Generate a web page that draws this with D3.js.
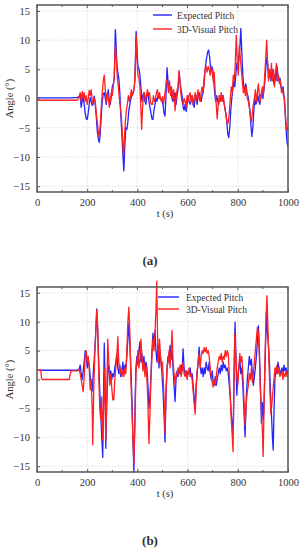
<!DOCTYPE html>
<html>
<head>
<meta charset="utf-8">
<script src="https://cdn.jsdelivr.net/npm/d3@7"></script>
<style>
  body { margin: 0; background: #fff; }
  svg text { font-family: "Liberation Serif", "Times New Roman", Times, serif; font-weight: normal; fill: #333; }
</style>
</head>
<body>
<script>
// Tick values for both panels
var xTicks = [0, 200, 400, 600, 800, 1000];
var xMinorTicks = [100, 300, 500, 700, 900];
var yTicks = [-15, -10, -5, 0, 5, 10, 15];
var seriesNames = ["Expected Pitch", "3D-Visual Pitch"];

// Panel (a): [t, angle]
var expectedA = [[0,0.1],[20,0.1],[40,0.1],[60,0.1],[80,0.1],[100,0.1],[120,0.1],[140,0.1],[160,0.2],[168,0.3],[172,0.3],[176,-1.5],[180,-0.5],[184,0.5],[188,-1.0],[192,-2.5],[196,-3.5],[200,-3.6],[204,-2.5],[208,-1.0],[212,0.2],[216,-0.5],[220,-1.2],[224,-0.6],[228,0.4],[232,-1.0],[236,-3.0],[240,-5.5],[244,-6.8],[248,-7.5],[252,-6.0],[256,-3.0],[260,-0.5],[264,0.8],[268,1.0],[272,0.0],[276,-1.0],[280,0.5],[284,1.5],[288,-0.5],[292,-1.0],[296,0.5],[300,2.0],[304,2.5],[308,3.5],[312,11.8],[314,10.5],[318,6.0],[322,4.5],[326,3.5],[330,1.0],[334,-3.0],[338,-6.0],[342,-9.5],[346,-12.4],[350,-8.0],[354,-5.0],[358,-5.3],[362,-4.0],[366,-2.0],[370,-1.0],[374,0.0],[378,0.5],[382,1.0],[386,1.5],[390,3.0],[395,11.5],[398,9.0],[402,5.5],[406,5.2],[410,4.0],[414,2.0],[418,-0.5],[422,0.5],[426,1.0],[430,-0.5],[434,-1.0],[438,0.5],[442,1.0],[446,-0.5],[450,-1.5],[454,-2.5],[458,-3.5],[462,-3.6],[466,-2.0],[470,-1.0],[474,0.0],[478,-0.5],[482,0.5],[486,0.5],[490,0.0],[496,-0.3],[502,-1.0],[506,-2.5],[510,-3.0],[514,0.5],[518,5.3],[522,3.0],[526,1.5],[530,2.0],[534,1.0],[538,0.0],[542,-0.5],[546,0.5],[550,1.0],[554,-1.0],[558,0.5],[562,1.5],[566,4.5],[570,3.0],[574,1.5],[578,0.5],[582,-1.5],[586,-2.0],[590,-1.0],[594,-2.2],[598,-1.0],[602,0.5],[606,-0.5],[610,-1.0],[614,-0.5],[618,0.5],[622,-1.0],[626,-1.5],[630,0.0],[634,0.5],[638,-1.0],[642,0.5],[646,1.0],[650,0.0],[654,-0.5],[658,0.5],[662,1.0],[666,3.5],[670,5.0],[674,6.5],[680,8.0],[684,8.3],[688,7.0],[692,5.0],[696,5.5],[700,5.0],[704,3.0],[708,1.0],[712,-0.5],[716,0.5],[720,-0.5],[724,-1.0],[728,0.5],[732,-0.5],[736,0.0],[740,0.5],[744,-0.5],[748,-1.5],[752,-2.5],[756,-4.0],[760,-6.0],[764,-6.7],[768,-5.0],[772,-2.0],[776,0.0],[780,1.5],[784,3.0],[788,2.0],[792,4.0],[796,6.0],[800,5.0],[804,7.0],[808,8.5],[812,12.0],[816,8.0],[820,4.0],[824,2.0],[828,1.5],[832,2.5],[836,1.0],[840,0.5],[844,-0.5],[848,-2.0],[852,-4.5],[856,-6.5],[860,-5.0],[864,-2.0],[868,0.0],[872,-1.0],[876,-0.5],[880,0.5],[884,-0.5],[888,-1.0],[892,0.5],[896,1.0],[900,0.0],[904,1.5],[908,3.0],[912,5.5],[916,7.0],[920,5.5],[924,3.5],[928,4.5],[932,3.0],[936,5.0],[940,4.0],[944,2.5],[948,4.0],[952,3.0],[956,5.5],[960,4.0],[964,3.0],[968,3.5],[972,2.0],[976,1.5],[980,2.0],[984,0.5],[988,-2.0],[992,-5.0],[996,-7.5],[1000,-8.2]];

var visualA = [[0,-0.3],[40,-0.3],[80,-0.3],[120,-0.3],[160,-0.3],[168,0.3],[172,1.0],[176,-0.5],[180,1.2],[184,0.0],[188,1.0],[192,-0.5],[196,0.5],[200,-1.0],[204,0.0],[208,1.4],[212,0.5],[216,1.5],[220,-0.5],[224,-1.0],[228,0.0],[232,-0.5],[236,-2.5],[240,-4.0],[244,-5.5],[248,-6.7],[252,-4.5],[256,-1.5],[260,1.0],[264,3.0],[268,4.0],[272,1.5],[276,-0.5],[280,1.0],[284,0.0],[288,-1.5],[292,-0.5],[296,1.0],[300,0.5],[304,2.0],[308,4.0],[312,9.1],[316,7.0],[320,3.5],[324,2.0],[328,0.0],[332,-1.5],[336,-3.0],[340,-6.0],[344,-9.8],[348,-7.0],[352,-4.0],[356,-2.0],[360,-1.0],[364,0.5],[368,-0.5],[372,0.5],[376,1.5],[380,0.5],[384,1.0],[388,2.0],[392,6.0],[395,10.8],[398,7.0],[402,4.0],[406,3.5],[410,2.0],[414,-2.0],[417,-5.3],[420,-2.0],[424,0.5],[428,1.0],[432,-0.5],[436,0.5],[440,1.5],[444,0.5],[448,1.0],[452,-0.5],[456,-1.0],[460,-1.0],[464,0.5],[468,-0.5],[472,0.0],[476,1.0],[480,1.5],[484,0.0],[488,1.0],[492,0.0],[496,-0.5],[500,0.3],[504,-1.0],[508,0.5],[512,1.5],[516,3.3],[520,2.5],[524,1.0],[528,3.0],[532,0.5],[536,2.0],[540,0.0],[544,1.5],[548,-0.5],[550,-2.1],[554,0.0],[558,1.5],[562,2.0],[566,4.8],[570,2.5],[574,0.5],[578,-0.5],[582,-1.0],[586,0.0],[590,-0.5],[594,-1.5],[598,0.5],[602,-0.5],[606,0.5],[610,1.0],[614,-0.5],[618,0.5],[622,-1.0],[626,0.0],[630,1.0],[634,-0.5],[638,0.5],[642,1.5],[646,0.0],[650,-0.5],[654,1.0],[658,2.0],[662,1.0],[666,2.5],[670,5.0],[674,5.5],[678,4.5],[682,5.5],[686,5.0],[690,4.0],[694,5.5],[698,4.5],[702,3.0],[706,4.5],[710,1.0],[714,-1.0],[718,-3.5],[722,-1.0],[726,0.5],[730,-0.5],[734,1.0],[738,-0.5],[742,0.5],[746,-1.0],[750,-2.0],[754,-3.0],[758,-4.4],[762,-4.0],[766,-2.5],[770,0.0],[774,2.0],[778,1.0],[782,4.0],[786,3.0],[790,6.0],[794,10.8],[798,6.0],[802,4.0],[806,9.0],[810,7.0],[814,5.0],[818,3.0],[822,1.0],[826,2.0],[830,0.5],[834,2.0],[838,0.0],[842,-0.5],[846,-1.5],[850,-3.0],[854,-4.0],[858,-2.5],[862,-1.0],[866,0.0],[870,1.5],[874,-0.5],[878,1.0],[882,2.5],[886,0.5],[890,-0.5],[894,1.0],[898,2.0],[902,0.5],[906,3.0],[910,6.0],[915,10.0],[918,7.0],[922,3.0],[926,5.0],[930,3.5],[934,6.0],[938,3.0],[942,5.0],[946,2.0],[950,4.5],[954,6.0],[958,3.0],[962,4.0],[966,2.5],[970,3.0],[974,1.0],[978,1.5],[982,0.5],[986,0.0],[990,-3.0],[994,-5.3],[998,-5.0],[1000,-5.5]];

// Panel (b): [t, angle]
var expectedB = [[0,1.6],[40,1.6],[80,1.6],[120,1.6],[160,1.6],[168,1.8],[172,2.5],[176,1.0],[180,0.0],[184,1.5],[188,3.0],[192,5.0],[196,4.5],[200,2.0],[204,3.5],[208,2.5],[212,0.5],[216,-1.5],[220,-2.0],[224,1.0],[228,3.5],[232,6.5],[236,10.0],[238,12.2],[242,8.0],[246,3.0],[250,-2.0],[254,-6.0],[258,-10.0],[262,-13.5],[266,0.0],[268,6.3],[272,-2.0],[274,-11.9],[278,-4.0],[282,1.0],[286,2.5],[290,0.5],[294,1.5],[298,0.0],[302,1.0],[306,0.5],[310,2.0],[314,3.0],[318,4.5],[322,2.0],[326,1.0],[330,2.5],[334,0.5],[338,1.5],[342,3.0],[346,1.0],[350,2.5],[354,2.0],[358,4.0],[362,7.0],[366,9.7],[370,6.0],[374,2.0],[378,-3.0],[382,-10.0],[386,-16.0],[390,-6.0],[394,2.0],[398,4.0],[402,2.5],[406,5.0],[410,6.5],[414,3.0],[418,4.5],[422,2.0],[426,4.0],[430,1.5],[434,3.0],[438,2.0],[442,-1.0],[446,-5.0],[450,-3.0],[454,1.0],[458,5.0],[462,8.0],[466,6.0],[470,8.5],[474,5.0],[478,3.0],[482,6.0],[486,2.0],[490,5.0],[494,3.0],[498,1.0],[502,-2.0],[506,-6.0],[510,-10.8],[514,-3.0],[518,2.0],[522,4.0],[526,3.0],[530,5.9],[534,3.5],[538,5.0],[542,2.0],[546,-1.0],[550,-3.8],[554,0.0],[558,1.5],[562,0.5],[566,2.0],[570,1.0],[574,2.5],[578,1.5],[582,5.3],[586,2.0],[590,1.0],[594,1.5],[598,0.5],[602,1.5],[606,1.0],[610,2.0],[614,0.5],[618,1.0],[622,-1.0],[626,-3.0],[630,-5.3],[634,-1.0],[638,1.0],[642,3.0],[646,5.6],[650,2.5],[654,1.0],[658,2.0],[662,0.5],[666,2.0],[670,1.0],[674,3.0],[678,2.0],[682,1.5],[686,3.0],[690,1.0],[694,0.0],[698,1.5],[702,-0.5],[706,-1.0],[710,0.5],[714,-1.0],[718,0.0],[722,1.0],[726,2.0],[730,1.0],[734,2.5],[738,1.5],[742,3.0],[746,2.0],[750,2.5],[754,1.5],[758,2.0],[762,1.0],[766,-1.0],[770,-3.0],[774,-6.0],[778,-7.5],[782,-9.0],[786,3.0],[789,9.9],[792,5.0],[796,-2.7],[800,0.5],[804,2.0],[808,3.5],[812,1.0],[816,2.0],[820,-1.0],[824,-5.0],[829,-9.9],[834,-3.0],[838,0.0],[842,2.0],[846,4.0],[850,2.5],[854,3.5],[858,1.0],[862,-1.0],[866,0.5],[870,2.0],[874,4.0],[878,6.5],[882,9.3],[886,5.0],[890,-1.0],[894,-7.5],[898,-4.0],[902,-7.0],[906,-2.0],[910,5.0],[914,11.6],[918,8.0],[922,6.0],[926,3.0],[930,-2.0],[934,-6.0],[938,-10.0],[941,-12.2],[944,-6.0],[948,0.0],[952,2.0],[956,1.0],[960,3.0],[964,2.0],[968,1.0],[972,1.5],[976,2.0],[980,1.0],[984,2.5],[988,1.5],[992,2.0],[996,1.0],[1000,1.5]];

var visualB = [[0,1.6],[15,1.6],[18,0.2],[22,0.0],[60,0.0],[100,0.0],[128,0.0],[132,0.8],[136,1.5],[160,1.5],[168,1.7],[172,1.0],[176,0.0],[180,-1.0],[184,-2.1],[188,0.5],[192,4.0],[196,5.0],[200,3.0],[204,4.0],[208,2.0],[212,-1.8],[216,0.0],[220,-5.0],[222,-11.3],[226,-2.0],[230,4.0],[234,8.0],[238,12.0],[242,9.0],[246,1.0],[250,-5.0],[254,-7.0],[258,-3.0],[262,-10.5],[266,-4.0],[270,2.0],[274,-10.5],[278,-3.0],[282,7.0],[286,3.0],[290,-1.0],[294,1.0],[298,-1.5],[302,-3.5],[306,-3.5],[310,0.0],[314,2.0],[318,4.0],[322,7.4],[326,3.0],[330,1.0],[334,2.0],[338,0.5],[342,1.5],[346,0.5],[350,2.0],[354,1.0],[358,5.0],[362,10.0],[366,12.5],[370,8.0],[374,0.0],[378,-5.0],[382,-10.0],[386,-14.5],[390,-8.0],[394,1.0],[398,3.0],[402,5.0],[406,2.0],[410,3.5],[414,7.0],[418,4.0],[422,1.5],[426,3.0],[430,0.5],[434,2.5],[438,0.0],[442,-4.0],[446,-11.1],[450,-6.0],[454,0.0],[458,4.0],[462,7.0],[466,5.0],[470,8.0],[474,12.0],[477,17.0],[480,8.0],[484,3.0],[488,7.0],[492,4.0],[496,2.0],[500,3.0],[504,-1.0],[508,-5.0],[510,-9.4],[514,-2.0],[518,2.0],[522,3.0],[526,5.0],[530,2.0],[534,4.5],[538,8.5],[542,3.0],[546,1.0],[550,-1.0],[554,1.0],[558,0.5],[562,2.0],[566,1.0],[570,2.5],[574,0.5],[578,1.5],[582,3.0],[586,1.0],[590,0.5],[594,1.5],[598,0.0],[602,1.0],[606,2.0],[610,0.5],[614,1.0],[618,0.0],[622,-2.0],[626,-4.0],[630,-6.0],[634,-2.0],[638,1.5],[642,3.0],[646,4.5],[650,2.0],[654,4.0],[658,5.0],[662,4.5],[666,5.5],[670,4.8],[674,5.5],[678,4.5],[682,5.0],[686,4.0],[690,2.0],[694,0.5],[698,-0.5],[702,-1.3],[706,0.0],[710,-1.0],[714,0.5],[718,2.0],[722,3.0],[726,4.0],[730,3.5],[734,4.5],[738,3.0],[742,4.0],[746,3.5],[750,5.0],[754,4.0],[758,5.0],[762,4.5],[766,1.0],[770,-3.0],[774,-7.0],[778,-10.0],[781,-12.5],[784,-2.0],[788,7.9],[792,4.0],[796,0.5],[800,-1.0],[804,2.0],[808,4.5],[812,3.0],[816,4.0],[820,1.0],[824,-3.0],[829,-8.0],[834,-4.0],[838,-2.0],[842,-1.0],[846,1.0],[850,0.0],[854,2.0],[858,-0.5],[862,1.0],[866,3.0],[870,5.0],[874,7.0],[878,9.0],[882,8.0],[886,4.0],[890,-2.0],[894,-5.0],[898,-9.0],[901,-13.3],[904,-6.0],[908,3.0],[912,10.0],[916,14.5],[920,9.0],[924,3.0],[928,-2.0],[932,-6.0],[936,-4.0],[940,-2.0],[944,0.0],[948,2.0],[952,1.0],[956,2.5],[960,1.0],[964,2.0],[968,0.5],[972,1.0],[976,1.5],[980,0.0],[984,1.0],[988,0.5],[992,1.5],[996,0.5],[1000,0.5]];

var blue = "#2424ff";
var red = "#ff2020";
var frameColor = "#555";

var svg = d3.select("body")
            .append("svg")
            .attr("width", 299)
            .attr("height", 550);

// draws one panel; top/bottom are pixel edges of the plot box
function drawPanel(top, bottom, expected, visual, tag, legend) {
    var x = d3.scaleLinear().domain([0, 1000]).range([37, 288]);
    var y = d3.scaleLinear().domain([-16, 16]).range([bottom, top]);

    var g = svg.append("g");

    // dotted grid
    g.selectAll(".gx").data(xTicks.slice(1, -1)).enter()
     .append("line")
     .attr("x1", d => x(d)).attr("x2", d => x(d))
     .attr("y1", top).attr("y2", bottom)
     .attr("stroke", "#d8d8d8").attr("stroke-width", 0.8)
     .attr("stroke-dasharray", "1.5,1.5");

    g.selectAll(".gy").data(yTicks).enter()
     .append("line")
     .attr("x1", 37).attr("x2", 288)
     .attr("y1", d => y(d)).attr("y2", d => y(d))
     .attr("stroke", "#d8d8d8").attr("stroke-width", 0.8)
     .attr("stroke-dasharray", "1.5,1.5");

    var line = d3.line()
                 .x(d => x(d[0]))
                 .y(d => y(d[1]));

    g.append("path").datum(expected)
     .attr("d", line)
     .attr("fill", "none")
     .attr("stroke", blue)
     .attr("stroke-width", 1.3)
     .attr("stroke-linejoin", "round");

    g.append("path").datum(visual)
     .attr("d", line)
     .attr("fill", "none")
     .attr("stroke", red)
     .attr("stroke-width", 1.3)
     .attr("stroke-linejoin", "round");

    // axes, ticks pointing inward
    var bottomAxis = d3.axisBottom(x).tickValues(xTicks).tickSize(-3).tickPadding(7)
                       .tickFormat(d3.format("d"));
    var leftAxis = d3.axisLeft(y).tickValues(yTicks).tickSize(-3).tickPadding(7)
                     .tickFormat(d => d < 0 ? "\u2212" + Math.abs(d) : d);

    var xa = g.append("g")
              .attr("transform", `translate(0, ${bottom})`)
              .call(bottomAxis);
    var ya = g.append("g")
              .attr("transform", "translate(37, 0)")
              .call(leftAxis);

    [xa, ya].forEach(function(a) {
        a.attr("font-family", null).attr("font-size", null);
        a.select(".domain").remove();
        a.selectAll(".tick line").attr("stroke", frameColor);
        a.selectAll(".tick text")
         .style("font-size", "10.5px")
         .attr("fill", "#333");
    });

    // minor x ticks on top and bottom
    g.selectAll(".mb").data(xMinorTicks).enter()
     .append("line")
     .attr("x1", d => x(d)).attr("x2", d => x(d))
     .attr("y1", bottom).attr("y2", bottom - 2)
     .attr("stroke", frameColor);
    g.selectAll(".mt").data(xTicks.concat(xMinorTicks)).enter()
     .append("line")
     .attr("x1", d => x(d)).attr("x2", d => x(d))
     .attr("y1", top).attr("y2", d => top + (d % 200 == 0 ? 3 : 2))
     .attr("stroke", frameColor);

    // frame
    g.append("rect")
     .attr("x", 37).attr("y", top)
     .attr("width", 251).attr("height", bottom - top)
     .attr("fill", "none")
     .attr("stroke", frameColor)
     .attr("stroke-width", 1.5);

    // legend
    seriesNames.forEach(function(name, i) {
        var ly = legend.y + i * legend.gap;
        g.append("line")
         .attr("x1", legend.x).attr("x2", legend.x + legend.len)
         .attr("y1", ly).attr("y2", ly)
         .attr("stroke", i == 0 ? blue : red)
         .attr("stroke-width", 1.4);
        g.append("text")
         .attr("x", legend.tx).attr("y", ly + 3.5)
         .style("font-size", "9.5px")
         .text(name);
    });

    // axis titles
    g.append("text")
     .attr("transform", `translate(13, ${(top + bottom) / 2}) rotate(-90)`)
     .attr("text-anchor", "middle")
     .style("font-size", "10.5px")
     .text("Angle (\u00b0)");

    g.append("text")
     .attr("x", 165).attr("y", bottom + 25)
     .attr("text-anchor", "middle")
     .style("font-size", "10.5px")
     .text("t (s)");

    g.append("text")
     .attr("x", 150).attr("y", bottom + 73)
     .attr("text-anchor", "middle")
     .style("font-size", "13px")
     .style("font-weight", "bold")
     .text(tag);
}

drawPanel(5, 192, expectedA, visualA, "(a)", { x: 153, len: 19, tx: 177, y: 15, gap: 14 });
drawPanel(287, 472, expectedB, visualB, "(b)", { x: 158, len: 21, tx: 186, y: 297, gap: 12 });
</script>
</body>
</html>
